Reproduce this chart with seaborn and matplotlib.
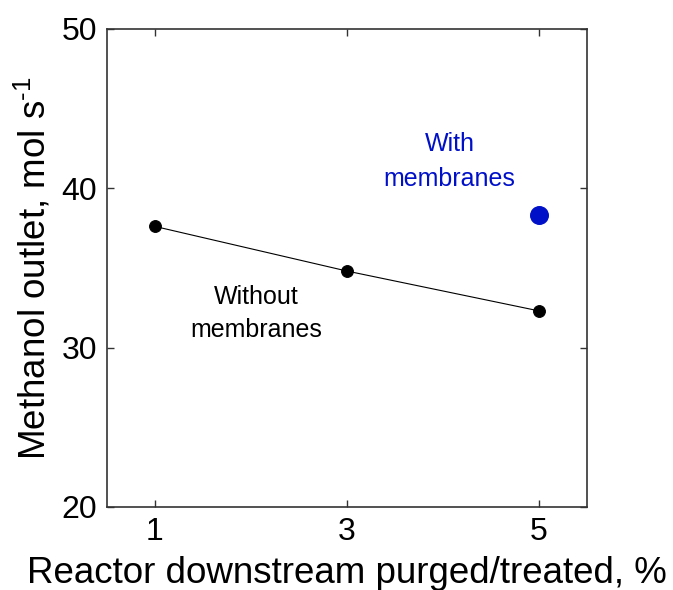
import matplotlib
matplotlib.use("Agg")
import matplotlib.pyplot as plt
import seaborn as sns
import pandas as pd

purge_pct = [1, 3, 5]
methanol_without = [37.6, 34.8, 32.3]
purge_with = [5]
methanol_with = [38.3]
x_ticks = [1, 3, 5]
y_ticks = [20, 30, 40, 50]

sns.set_style("ticks")
plt.rcParams['font.family'] = ['Liberation Sans', 'DejaVu Sans']
plt.rcParams['mathtext.fontset'] = 'custom'
plt.rcParams['mathtext.rm'] = 'Liberation Sans'
plt.rcParams['text.color'] = 'black'
plt.rcParams['axes.labelcolor'] = 'black'
plt.rcParams['xtick.color'] = '#333333'
plt.rcParams['ytick.color'] = '#333333'
plt.rcParams['xtick.labelcolor'] = 'black'
plt.rcParams['ytick.labelcolor'] = 'black'

fig = plt.figure(figsize=(6.73, 5.90), dpi=100)
ax = fig.add_axes([0.159, 0.141, 0.713, 0.810])

df_wo = pd.DataFrame({"x": purge_pct, "y": methanol_without})
df_w = pd.DataFrame({"x": purge_with, "y": methanol_with})

sns.lineplot(data=df_wo, x="x", y="y", ax=ax, color="black", linewidth=0.8,
             marker="o", markersize=8.5, markeredgecolor="black", markerfacecolor="black")
sns.scatterplot(data=df_w, x="x", y="y", ax=ax, color="#0010c8", s=160, edgecolor="#0010c8")

ax.set_xlim(0.5, 5.5)
ax.set_ylim(20, 50)
ax.set_xticks(x_ticks)
ax.set_yticks(y_ticks)
ax.tick_params(direction="in", top=True, right=True, labelsize=23, length=5, width=1, pad=7)
for s in ax.spines.values():
    s.set_linewidth(1.2)
    s.set_color("#333333")

ax.set_xlabel("Reactor downstream purged/treated, %", fontsize=26.5, labelpad=7)
ax.set_ylabel("Methanol outlet, mol s$^{\\mathregular{\u2010}\\mathregular{1}}$", fontsize=26.5, labelpad=6)

ax.text(4.07, 41.67, "With\nmembranes", color="#0010c8", fontsize=18, ha="center", va="center", linespacing=1.6)
ax.text(2.06, 32.15, "Without\nmembranes", color="black", fontsize=18, ha="center", va="center", linespacing=1.45)

fig.savefig("out.png", dpi=100)
